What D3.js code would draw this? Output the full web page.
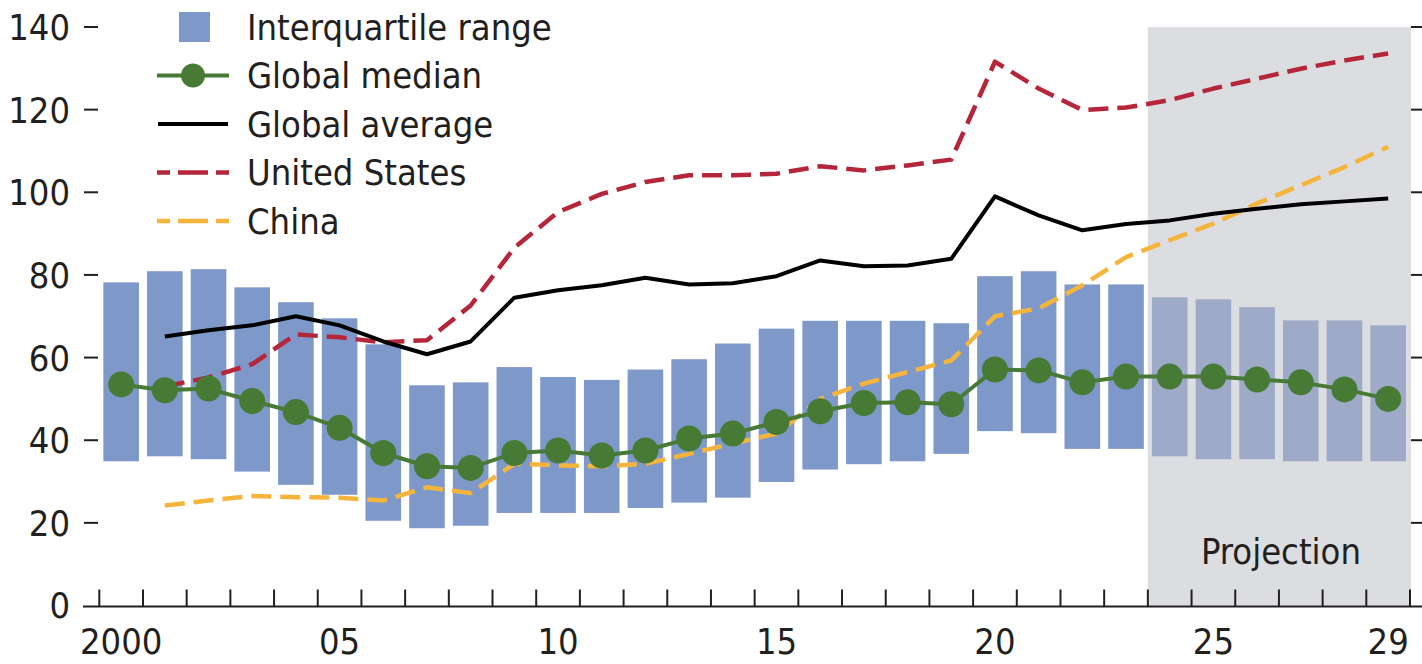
<!DOCTYPE html>
<html>
<head>
<meta charset="utf-8">
<script src="https://cdn.jsdelivr.net/npm/d3@7"></script>
<style>
  body { margin: 0; background: #fff; }
  text { font-family: "Liberation Sans Narrow", "DejaVu Sans Condensed", "Roboto Condensed", sans-serif; fill: #231f20; }
</style>
</head>
<body>
<svg id="chart" width="1422" height="664"></svg>
<script>
const years = d3.range(2000, 2030);
const projectionStart = 2024;

// interquartile range per year
const iqrLow = [34.9, 36.1, 35.4, 32.4, 29.2, 26.8, 20.5, 18.7, 19.3, 22.4,
                22.4, 22.4, 23.6, 24.9, 26.1, 29.9, 32.9, 34.2, 34.9, 36.7,
                42.2, 41.7, 37.9, 37.9, 36.1, 35.4, 35.4, 34.9, 34.9, 34.9];
const iqrHigh = [78.2, 80.9, 81.4, 77.0, 73.4, 69.5, 63.2, 53.3, 54.0, 57.7,
                 55.3, 54.6, 57.1, 59.6, 63.4, 67.0, 68.9, 68.9, 68.9, 68.3,
                 79.7, 80.9, 77.7, 77.7, 74.6, 74.1, 72.2, 69.0, 69.0, 67.8];
const globalMedian = [53.5, 52.1, 52.5, 49.5, 46.8, 43.0, 36.9, 33.7, 33.3, 36.9,
                      37.5, 36.3, 37.5, 40.4, 41.6, 44.4, 47.0, 49.0, 49.2, 48.7,
                      57.1, 56.9, 54.0, 55.4, 55.4, 55.4, 54.7, 54.0, 52.3, 50.0];
// series below start in 2001
const globalAverage = [null, 65.1, 66.6, 67.8, 70.0, 67.8, 63.9, 60.8, 63.9, 74.5,
                       76.3, 77.5, 79.3, 77.7, 78.0, 79.7, 83.5, 82.1, 82.3, 83.9,
                       99.0, 94.4, 90.8, 92.3, 93.2, 94.8, 96.0, 97.1, 97.8, 98.5];
const unitedStates = [null, 53.0, 55.2, 58.4, 65.6, 64.9, 63.7, 64.2, 72.6, 86.6,
                      95.2, 99.6, 102.5, 104.1, 104.1, 104.5, 106.3, 105.3, 106.5, 107.9,
                      131.6, 125.1, 119.9, 120.5, 122.3, 125.1, 127.5, 129.9, 131.9, 133.6];
const china = [null, 24.2, 25.4, 26.5, 26.2, 26.1, 25.4, 28.6, 27.2, 34.3,
               33.9, 33.7, 34.3, 36.7, 39.2, 41.6, 50.0, 53.7, 56.5, 59.3,
               70.0, 71.9, 77.5, 84.3, 88.4, 92.4, 97.3, 101.7, 106.1, 111.0];

const yTicks = [0, 20, 40, 60, 80, 100, 120, 140];
const xLabels = [[2000, "2000"], [2005, "05"], [2010, "10"], [2015, "15"],
                 [2020, "20"], [2025, "25"], [2029, "29"]];

const legendItems = [
  {label: "Interquartile range", type: "box"},
  {label: "Global median", type: "median"},
  {label: "Global average", type: "line", color: "#000000"},
  {label: "United States", type: "dash", color: "#b5263a"},
  {label: "China", type: "dash", color: "#f5b53d"}
];

const svg = d3.select("#chart");
const plotLeft = 99.3, plotRight = 1410, plotBase = 605.5, plotTop = 27;
const fontSize = 36;

const xBand = d3.scaleBand().domain(years).range([plotLeft, plotRight]);
const y = d3.scaleLinear().domain([0, 140]).range([plotBase, plotTop]);
const cx = yr => xBand(yr) + xBand.bandwidth() / 2;

// projection shading
svg.append("rect")
  .attr("x", xBand(projectionStart))
  .attr("y", y(140))
  .attr("width", plotRight + 1 - xBand(projectionStart))
  .attr("height", y(0) - y(140))
  .attr("fill", "#dcdde0");

svg.append("text")
  .attr("x", (xBand(projectionStart) + plotRight) / 2 + 2)
  .attr("y", y(10))
  .attr("text-anchor", "middle")
  .attr("font-size", fontSize)
  .text("Projection");

// IQR bars
svg.append("g")
  .selectAll("rect")
  .data(years)
  .join("rect")
  .attr("x", d => cx(d) - 17.8)
  .attr("width", 35.6)
  .attr("y", (d, i) => y(iqrHigh[i]))
  .attr("height", (d, i) => y(iqrLow[i]) - y(iqrHigh[i]))
  .attr("fill", d => d >= projectionStart ? "#9eaac8" : "#7f98ca");

const line = d3.line()
  .defined(d => d[1] != null)
  .x(d => cx(d[0]))
  .y(d => y(d[1]));

function drawSeries(values, color, width, dash) {
  svg.append("path")
    .datum(years.map((yr, i) => [yr, values[i]]))
    .attr("d", line)
    .attr("fill", "none")
    .attr("stroke", color)
    .attr("stroke-width", width)
    .attr("stroke-linejoin", "round")
    .attr("stroke-dasharray", dash);
}

drawSeries(china, "#f5b53d", 4.5, "20,9");
drawSeries(unitedStates, "#b5263a", 4.5, "20,9");
drawSeries(globalAverage, "#000000", 4, null);
drawSeries(globalMedian, "#477a34", 4, null);

svg.append("g")
  .selectAll("circle")
  .data(years)
  .join("circle")
  .attr("cx", d => cx(d))
  .attr("cy", (d, i) => y(globalMedian[i]))
  .attr("r", 13)
  .attr("fill", "#477a34");

// axes
svg.append("line")
  .attr("x1", 83).attr("x2", 1422)
  .attr("y1", plotBase + 1).attr("y2", plotBase + 1)
  .attr("stroke", "#231f20").attr("stroke-width", 2);

svg.append("g")
  .selectAll("line")
  .data(d3.range(years.length + 1))
  .join("line")
  .attr("x1", i => plotLeft + i * xBand.bandwidth())
  .attr("x2", i => plotLeft + i * xBand.bandwidth())
  .attr("y1", plotBase - 16).attr("y2", plotBase + 1)
  .attr("stroke", "#231f20").attr("stroke-width", 2);

svg.append("g")
  .selectAll("text")
  .data(xLabels)
  .join("text")
  .attr("x", d => cx(d[0]))
  .attr("y", 654)
  .attr("text-anchor", "middle")
  .attr("font-size", fontSize)
  .text(d => d[1]);

const yAxis = svg.append("g");
yAxis.selectAll("text")
  .data(yTicks)
  .join("text")
  .attr("x", 70)
  .attr("y", d => y(d))
  .attr("dy", "0.36em")
  .attr("text-anchor", "end")
  .attr("font-size", fontSize)
  .text(d => d);

yAxis.selectAll("line.l")
  .data(yTicks.filter(d => d > 0))
  .join("line")
  .attr("class", "l")
  .attr("x1", 84).attr("x2", 98)
  .attr("y1", d => y(d)).attr("y2", d => y(d))
  .attr("stroke", "#231f20").attr("stroke-width", 2);

yAxis.selectAll("line.r")
  .data(yTicks.filter(d => d > 0))
  .join("line")
  .attr("class", "r")
  .attr("x1", 1411).attr("x2", 1422)
  .attr("y1", d => y(d)).attr("y2", d => y(d))
  .attr("stroke", "#231f20").attr("stroke-width", 2);

// legend
const legend = svg.append("g")
  .selectAll("g")
  .data(legendItems)
  .join("g")
  .attr("transform", (d, i) => `translate(0, ${27 + i * 48.5})`);

legend.append("text")
  .attr("x", 247)
  .attr("dy", "0.36em")
  .attr("font-size", fontSize)
  .text(d => d.label);

legend.filter(d => d.type === "box")
  .append("rect")
  .attr("x", 179).attr("y", -15)
  .attr("width", 31).attr("height", 30)
  .attr("fill", "#7f98ca");

legend.filter(d => d.type === "median")
  .call(g => g.append("line")
    .attr("x1", 157).attr("x2", 229)
    .attr("stroke", "#477a34").attr("stroke-width", 4))
  .call(g => g.append("circle")
    .attr("cx", 193).attr("r", 12)
    .attr("fill", "#477a34"));

legend.filter(d => d.type === "line")
  .append("line")
  .attr("x1", 158).attr("x2", 228)
  .attr("stroke", d => d.color).attr("stroke-width", 4);

legend.filter(d => d.type === "dash")
  .append("line")
  .attr("x1", 157).attr("x2", 229)
  .attr("stroke", d => d.color).attr("stroke-width", 4.5)
  .attr("stroke-dasharray", "13,8,30,8,13");
</script>
</body>
</html>
